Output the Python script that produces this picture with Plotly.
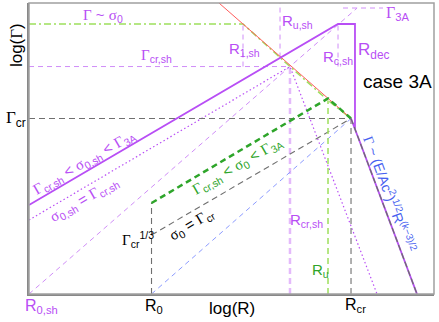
import plotly.graph_objects as go

# ---------------- key abscissae: log(R), arbitrary units ----------------
logR_0sh = 0.0
logR_0 = 3.025
logR_1sh = 5.284
logR_ush = 6.198
logR_crsh = 6.444
logR_u = 7.383
logR_csh = 7.630
logR_cr = 7.951
logR_dec = 8.049
logR_3A_seg = [7.753, 8.741]
logR_dot_end = 8.593
logR_end = 9.580

# ---------------- key ordinates: log(Gamma) ----------------
logG_top = 7.2
logG_3A = 7.076
logG_s0 = 6.680
logG_crsh = 5.628
logG_cr = 4.342
logG_u = 4.839
logG_u_dd = 4.79
logG_ush = 5.85
logG_solid0 = 2.202
logG_dot0 = 1.831
logG_green0 = 2.251
logG_cr13 = 1.460

x_range = [0, 10]
y_range = [0, 7.2]

# derived geometry (computed, not typed)
m_red = (logG_cr - logG_s0) / (logR_cr - logR_1sh)
x_red_top = logR_1sh + (logG_top - logG_s0) / m_red
m_dec = (0 - logG_cr) / (logR_end - logR_cr)
logG_dec_low = logG_cr + m_dec * (logR_dec - logR_cr)
m_diag = logG_crsh / logR_crsh
x_diag_end = logG_3A / m_diag

PURPLE = "#b84ef5"
LPURPLE = "#d08ef8"
LLPURPLE = "#e4bafb"
LGREEN = "#9ddf5c"
DGREEN = "#2ea52a"
BLUE_T = "#4862f0"
LBLUE = "#8c9bff"
RED = "#ff5c5c"
GRAY = "#6f6f6f"

fig = go.Figure()


def line(x, y, color, width=1.0, dash="solid"):
    fig.add_trace(go.Scatter(x=x, y=y, mode="lines", hoverinfo="skip",
                             line=dict(color=color, width=width, dash=dash),
                             showlegend=False))


DASH = "5px,4px"
# light purple dashed
line([0, logR_crsh], [logG_crsh, logG_crsh], LPURPLE, 1, DASH)
line([logR_1sh, logR_1sh], [logG_crsh, logG_s0], LPURPLE, 1, DASH)
line([logR_ush, logR_ush], [logG_ush, logG_top], LPURPLE, 1, DASH)
line([logR_csh, logR_csh], [logG_crsh, logG_s0], LPURPLE, 1, DASH)
line([logR_0sh, x_diag_end], [0, logG_3A], LPURPLE, 1, DASH)
line(logR_3A_seg, [logG_3A, logG_3A], LPURPLE, 1, DASH)
line([logR_crsh, logR_crsh], [0, logG_crsh], LLPURPLE, 2.5, "6px,4px")
# purple dotted
line([logR_0sh, logR_crsh, logR_dot_end], [logG_dot0, logG_crsh, 0], PURPLE, 1.2, "1.5px,2.5px")
# blue dashed
line([logR_0, logR_cr], [0, logG_cr], LBLUE, 1, DASH)
# gray dashed
line([0, logR_cr], [logG_cr, logG_cr], GRAY, 1.1, "6px,4px")
line([logR_cr, logR_cr], [0, logG_cr], GRAY, 1.1, "6px,4px")
line([logR_0, logR_0], [0, logG_green0], GRAY, 1.1, "6px,4px")
line([logR_0, logR_cr], [logG_cr13, logG_cr], GRAY, 1.1, "6px,4px")
# light green
line([logR_u, logR_u], [0, logG_u_dd], LGREEN, 1.5, "6px,4px")
line([0, logR_1sh, logR_crsh, logR_u, logR_cr],
     [logG_s0, logG_s0, logG_crsh, logG_u_dd, logG_cr], LGREEN, 1.5, "7px,3px,2px,3px")
# red
line([x_red_top, logR_cr], [logG_top, logG_cr], RED, 1)
# dark green thick dashed
line([logR_0, logR_u, logR_cr], [logG_green0, logG_u, logG_cr], DGREEN, 2.5, "6px,4px")
# purple solid
line([logR_0sh, logR_csh, logR_dec, logR_dec],
     [logG_solid0, logG_s0, logG_s0, logG_dec_low], PURPLE, 1.8)
line([logR_cr, logR_end], [logG_cr, 0], PURPLE, 1.8)
line([logR_cr, logR_end], [logG_cr, 0], GRAY, 1.3, "6px,3px")

SERIF = "font-family:Liberation Serif"


def gk(s):
    return f'<span style="{SERIF}">{s}</span>'


Gm = gk("Γ")
sg = gk("σ")

annots = [
    # (x, y, text, color, size, angle)
    (-0.32, 6.16, f"log({Gm})", "black", 17, -90),
    (5.01, -0.37, "log(R)", "black", 17, 0),
    (0.32, -0.30, "R<sub>0,sh</sub>", PURPLE, 16, 0),
    (3.09, -0.30, "R<sub>0</sub>", "black", 16, 0),
    (8.07, -0.28, "R<sub>cr</sub>", "black", 16, 0),
    (-0.32, 4.33, f"{Gm}<sub>cr</sub>", "black", 17, 0),
    (2.69, 1.36, f"{Gm}<sub>cr</sub><sup>1/3</sup>", "black", 15, 0),
    (1.83, 6.90, f"{Gm} ~ {sg}<sub>0</sub>", PURPLE, 15, 0),
    (3.16, 5.89, f"{Gm}<sub>cr,sh</sub>", PURPLE, 15, 0),
    (5.33, 6.04, "R<sub>1,sh</sub>", PURPLE, 15, 0),
    (6.62, 6.75, "R<sub>u,sh</sub>", PURPLE, 15, 0),
    (7.63, 5.86, "R<sub>c,sh</sub>", PURPLE, 15, 0),
    (8.52, 6.01, "R<sub>dec</sub>", PURPLE, 17, 0),
    (9.11, 6.95, f"{Gm}<sub>3A</sub>", PURPLE, 16, 0),
    (9.11, 5.27, "case 3A", "black", 19, 0),
    (6.86, 1.81, "R<sub>cr,sh</sub>", PURPLE, 15, 0),
    (7.19, 0.59, "R<sub>u</sub>", DGREEN, 15, 0),
    (1.36, 3.25, f"{Gm}<sub>cr,sh</sub> &lt; {sg}<sub>0,sh</sub> &lt; {Gm}<sub>3A</sub>", PURPLE, 15, -30),
    (1.36, 2.35, f"{sg}<sub>0,sh</sub> = {Gm}<sub>cr,sh</sub>", PURPLE, 15, -30),
    (5.16, 3.17, f"{Gm}<sub>cr,sh</sub> &lt; {sg}<sub>0</sub> &lt; {Gm}<sub>3A</sub>", DGREEN, 15, -30),
    (4.00, 1.73, f"{sg}<sub>0</sub> = {Gm}<sub>cr</sub>", "black", 15, -31),
    (8.91, 2.47, f"{Gm} ~ (E/Ac<sup>2</sup>)<sup>1/2</sup>R<sup>(k−3)/2</sup>", BLUE_T, 14, 69.6),
]

for x, y, t, c, s, a in annots:
    inside = x_range[0] <= x <= x_range[1] and y_range[0] <= y <= y_range[1]
    if inside:
        pos = dict(x=x, y=y, xref="x", yref="y")
    else:
        pos = dict(x=(x - x_range[0]) / (x_range[1] - x_range[0]),
                   y=(y - y_range[0]) / (y_range[1] - y_range[0]),
                   xref="paper", yref="paper")
    fig.add_annotation(**pos, text=t, showarrow=False, textangle=a,
                       font=dict(family="Liberation Sans", size=s, color=c),
                       xanchor="center", yanchor="middle")

fig.add_shape(type="rect", xref="paper", yref="paper", x0=0, y0=0, x1=1, y1=1,
              line=dict(color="#a0a0a0", width=1.5), layer="above")

fig.update_xaxes(range=x_range, showgrid=False, zeroline=False, showticklabels=False,
                 ticks="", showline=True, linecolor="#888888", linewidth=2)
fig.update_yaxes(range=y_range, showgrid=False, zeroline=False, showticklabels=False,
                 ticks="", showline=True, linecolor="#888888", linewidth=2)
fig.update_layout(width=439, height=322, margin=dict(l=29, r=5, t=3, b=28),
                  paper_bgcolor="white", plot_bgcolor="white",
                  font=dict(family="Liberation Sans"))

fig.write_html("out.html", config={"displayModeBar": False},
               post_script="document.body.style.margin='0px';document.body.style.overflow='hidden';")
